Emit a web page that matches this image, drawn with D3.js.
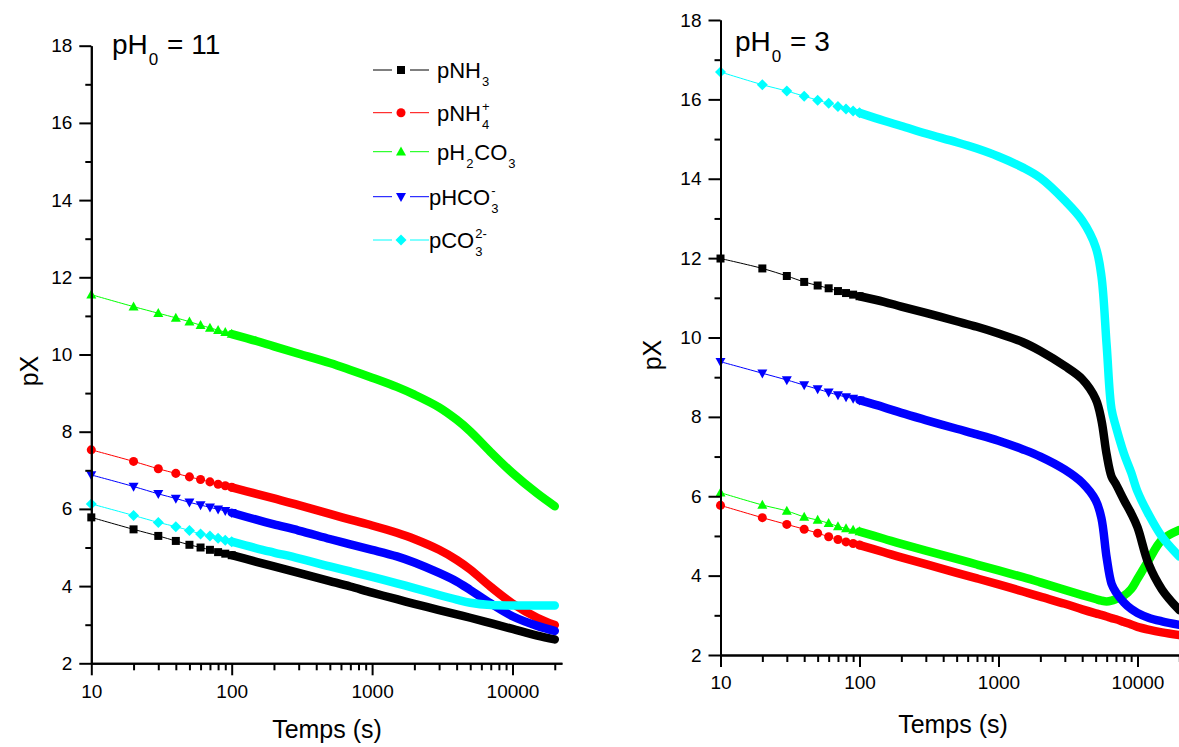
<!DOCTYPE html>
<html><head><meta charset="utf-8">
<script src="https://cdn.jsdelivr.net/npm/d3@7"></script>
<style>
body{margin:0;background:#fff}
svg{display:block}
text{font-family:"Liberation Sans",Arial,sans-serif;fill:#000;white-space:pre}
</style>
</head><body>
<svg id="chart" width="1179" height="747"></svg>
<script>
// ---------------- DATA ----------------
// Panel pH0 = 11
const times11 = [10,20,30,40,50,60,70,80,90,100,150,200,300,500,700,1000,1500,2000,3000,4000,5000,7000,10000,15000,20000];
const pNH3_11  = [5.78,5.47,5.30,5.17,5.07,5.00,4.94,4.88,4.84,4.80,4.63,4.51,4.34,4.13,3.99,3.83,3.66,3.54,3.38,3.27,3.18,3.04,2.89,2.72,2.62];
const pNH4_11  = [7.53,7.23,7.04,6.92,6.83,6.76,6.70,6.64,6.60,6.56,6.39,6.27,6.10,5.87,5.72,5.57,5.38,5.22,4.94,4.68,4.43,3.98,3.55,3.18,2.99];
const pH2CO3_11= [11.55,11.24,11.07,10.95,10.85,10.76,10.69,10.63,10.58,10.53,10.35,10.21,10.02,9.78,9.60,9.40,9.16,8.96,8.63,8.31,8.01,7.47,6.93,6.40,6.07];
const pHCO3_11 = [6.88,6.58,6.39,6.27,6.17,6.10,6.04,5.99,5.95,5.90,5.72,5.60,5.44,5.22,5.08,4.94,4.77,4.61,4.34,4.12,3.90,3.55,3.22,2.97,2.84];
const pCO3_11  = [6.13,5.83,5.65,5.54,5.44,5.35,5.30,5.24,5.19,5.15,4.98,4.87,4.72,4.51,4.38,4.24,4.07,3.95,3.77,3.65,3.57,3.51,3.50,3.50,3.50];

// Panel pH0 = 3
const times3 = [10,20,30,40,50,60,70,80,90,100,150,200,300,500,700,1000,1500,2000,3000,4000,5000,5500,6000,6500,7000,8000,9000,10000,12000,15000,20000];
const pNH3_3   = [11.99,11.74,11.55,11.40,11.31,11.24,11.17,11.12,11.08,11.04,10.90,10.78,10.62,10.41,10.27,10.10,9.88,9.66,9.28,8.95,8.45,7.92,7.05,6.50,6.30,5.90,5.57,5.22,4.30,3.65,3.13];
const pNH4_3   = [5.77,5.46,5.29,5.17,5.07,4.98,4.91,4.85,4.81,4.77,4.59,4.46,4.29,4.07,3.93,3.78,3.60,3.47,3.29,3.15,3.05,3.01,2.97,2.93,2.90,2.83,2.77,2.71,2.64,2.57,2.50];
const pH2CO3_3 = [6.09,5.78,5.63,5.48,5.40,5.32,5.24,5.19,5.15,5.11,4.93,4.80,4.63,4.42,4.28,4.13,3.96,3.83,3.64,3.51,3.41,3.37,3.35,3.37,3.41,3.50,3.66,3.92,4.38,4.90,5.15];
const pHCO3_3  = [9.39,9.10,8.93,8.80,8.70,8.62,8.55,8.50,8.46,8.42,8.24,8.10,7.92,7.70,7.56,7.40,7.18,7.00,6.67,6.34,5.90,5.45,4.45,3.80,3.58,3.32,3.16,3.06,2.94,2.85,2.76];
const pCO3_3   = [16.69,16.37,16.21,16.08,15.98,15.90,15.82,15.76,15.71,15.66,15.46,15.33,15.14,14.92,14.76,14.56,14.28,14.02,13.45,12.95,12.28,11.55,9.80,8.20,7.75,7.07,6.60,6.12,5.55,4.98,4.48];

const yTickValues  = [2,4,6,8,10,12,14,16,18];
const yMinorValues = [3,5,7,9,11,13,15,17];
const xTickValues  = [10,100,1000,10000];
const xTickLabels  = ["10","100","1000","10000"];
const seriesColors = ["#000000","#ff0000","#00ff00","#0000ff","#00ffff"];
const markerTypes  = ["square","circle","triUp","triDown","diamond"];

// ---------------- HELPERS ----------------
const svg = d3.select("#chart");
const FONT = '"Liberation Sans", Arial, sans-serif';

function markerPath(type){
  switch(type){
    case "square": return "M-4,-4H4V4H-4Z";
    case "circle": return d3.symbol(d3.symbolCircle, 64)();
    case "triUp": return "M0,-5.2L5,3.8L-5,3.8Z";
    case "triDown": return "M0,5.2L5,-3.8L-5,-3.8Z";
    case "diamond": return "M0,-5.5L5.5,0L0,5.5L-5.5,0Z";
  }
}

function richText(g, x, y, parts, fs){
  let cx = x;
  const subFs = Math.round(fs*0.6);
  parts.forEach(p => {
    if (p.k === "n"){
      const t = g.append("text").attr("x",cx).attr("y",y).attr("font-size",fs).text(p.t);
      cx += t.node().getComputedTextLength();
    } else if (p.k === "sub"){
      const t = g.append("text").attr("x",cx+1).attr("y",y+fs*0.38).attr("font-size",subFs).text(p.t);
      cx += t.node().getComputedTextLength()+2;
    } else if (p.k === "supsub"){
      const a = g.append("text").attr("x",cx+1).attr("y",y-fs*0.45).attr("font-size",subFs).text(p.sup);
      const b = g.append("text").attr("x",cx+1).attr("y",y+fs*0.38).attr("font-size",subFs).text(p.sub);
      cx += Math.max(a.node().getComputedTextLength(), b.node().getComputedTextLength())+2;
    }
  });
  return cx;
}

function drawPanel(cfg){
  const g = svg.append("g");
  const x = d3.scaleLog().domain([10, 22500]).range([cfg.x0, cfg.x0 + cfg.decade*Math.log10(2250)]);
  const y = d3.scaleLinear().domain([2, 18]).range([cfg.yBottom, cfg.yTop]);

  const line = d3.line().x(d => x(d[0])).y(d => y(d[1])).curve(d3.curveCatmullRom.alpha(0.5));
  cfg.order.forEach(i => {
    const vals = cfg.series[i];
    const pts = cfg.times.map((t,j) => [t, vals[j]]);
    const col = seriesColors[i];
    g.append("path").attr("d", line(pts)).attr("fill","none").attr("stroke",col).attr("stroke-width",1);
    const dense = pts.filter(p => p[0] >= 100);
    g.append("path").attr("d", line(dense)).attr("fill","none").attr("stroke",col)
      .attr("stroke-width",8.5).attr("stroke-linejoin","round").attr("stroke-linecap","round");
    g.selectAll(null).data(pts.filter(p => p[0] <= 100)).enter().append("path")
      .attr("d", markerPath(markerTypes[i]))
      .attr("transform", d => `translate(${x(d[0])},${y(d[1])})`)
      .attr("fill", col);
  });

  g.append("g").attr("transform", `translate(${cfg.x0},0)`)
    .call(d3.axisLeft(y).tickValues(yTickValues).tickSize(12).tickSizeOuter(0).tickPadding(7).tickFormat(d3.format("d")));
  g.append("g").attr("transform", `translate(${cfg.x0},0)`)
    .call(d3.axisLeft(y).tickValues(yMinorValues).tickSize(6).tickSizeOuter(0).tickFormat(""));
  const minor = [];
  xTickValues.forEach(d => { for (let m=2; m<=9; m++){ if (m*d <= 20000) minor.push(m*d); } });
  g.append("g").attr("transform", `translate(0,${cfg.yBottom})`)
    .call(d3.axisBottom(x).tickValues(xTickValues).tickSize(12).tickSizeOuter(0).tickPadding(9)
      .tickFormat((d,i) => xTickLabels[i]));
  g.append("g").attr("transform", `translate(0,${cfg.yBottom})`)
    .call(d3.axisBottom(x).tickValues(minor).tickSize(7).tickSizeOuter(0).tickFormat(""));

  g.selectAll(".domain").attr("stroke","#000").attr("stroke-width",2);
  g.selectAll(".tick line").attr("stroke","#000").attr("stroke-width",2);
  g.selectAll(".tick text").attr("font-size",19).attr("font-family",FONT).attr("fill","#000");

  g.append("text").attr("x", cfg.xTitleX).attr("y", cfg.xTitleY).attr("text-anchor","middle")
    .attr("font-size",25).text("Temps (s)");
  g.append("text").attr("transform", `translate(${cfg.yTitleX},${cfg.yTitleY}) rotate(-90)`)
    .attr("text-anchor","middle").attr("font-size",25).text("pX");

  richText(g, cfg.labelX, cfg.labelY, [{t:"pH",k:"n"},{t:"0",k:"sub"},{t:" = " + cfg.ph,k:"n"}], 28);
  return g;
}

drawPanel({
  x0: 91.3, decade: 140.4, yBottom: 663.3, yTop: 45.7,
  times: times11, series: [pNH3_11, pNH4_11, pH2CO3_11, pHCO3_11, pCO3_11], order:[0,1,2,3,4],
  xTitleX: 327, xTitleY: 738, yTitleX: 38, yTitleY: 371, labelX: 112, labelY: 54, ph: "11"
});
drawPanel({
  x0: 720.5, decade: 139, yBottom: 655, yTop: 20,
  times: times3, series: [pNH3_3, pNH4_3, pH2CO3_3, pHCO3_3, pCO3_3], order:[1,2,3,4,0],
  xTitleX: 953, xTitleY: 733, yTitleX: 661, yTitleY: 355, labelX: 735, labelY: 51, ph: "3"
});

// legend
const legend = svg.append("g");
const legendRows = [70, 112.7, 151.7, 196.7, 240];
const legendLabels = [
  [{t:"pNH",k:"n"},{t:"3",k:"sub"}],
  [{t:"pNH",k:"n"},{k:"supsub",sup:"+",sub:"4"}],
  [{t:"pH",k:"n"},{t:"2",k:"sub"},{t:"CO",k:"n"},{t:"3",k:"sub"}],
  [{t:"pHCO",k:"n"},{k:"supsub",sup:"-",sub:"3"}],
  [{t:"pCO",k:"n"},{k:"supsub",sup:"2-",sub:"3"}]
];
const legendTextX = [437, 437, 437, 429, 429];
legendRows.forEach((ry, i) => {
  const col = seriesColors[i];
  legend.append("line").attr("x1",373).attr("x2",392).attr("y1",ry).attr("y2",ry).attr("stroke",col).attr("stroke-width",1);
  legend.append("line").attr("x1",410).attr("x2",429).attr("y1",ry).attr("y2",ry).attr("stroke",col).attr("stroke-width",1);
  legend.append("path").attr("d", markerPath(markerTypes[i])).attr("transform",`translate(401,${ry})`).attr("fill",col);
  richText(legend, legendTextX[i], ry + 8, legendLabels[i], 22);
});
</script>
</body></html>
